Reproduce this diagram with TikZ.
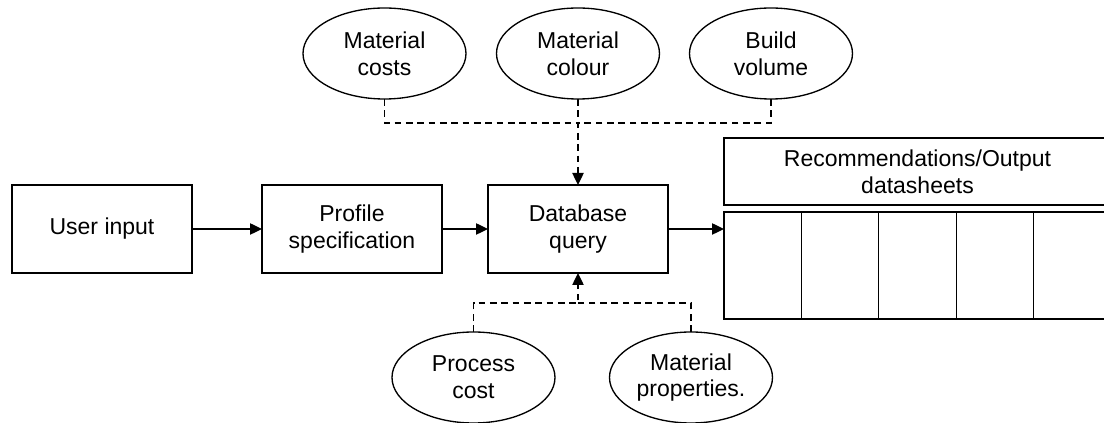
\documentclass[tikz,border=0pt]{standalone}
\usepackage{fontspec}
\setmainfont{Liberation Sans}
\usetikzlibrary{arrows.meta,shapes.geometric}

\tikzset{
  base/.style={draw=black, line width=1pt, inner sep=0pt, outer sep=0pt,
    align=center, font=\fontsize{17.25}{20}\selectfont},
  block/.style={base, rectangle, minimum width=135pt, minimum height=66pt},
  oval/.style={base, ellipse, minimum width=122.25pt, minimum height=68.25pt},
  cell/.style={base, rectangle, minimum width=58.05pt, minimum height=80.25pt},
  link/.style={line width=1pt, -{Triangle[length=9pt,width=8.5pt]}},
  feed/.style={line width=1pt, dash pattern=on 5pt off 3.5pt},
}

\begin{document}
\begin{tikzpicture}[x=0.75pt, y=-0.75pt]
  \useasboundingbox (0,0) rectangle (1104,423);
  \clip (0,0) rectangle (1104,423);

  % main chain
  \node[block] (user) at (102,229) {User input};
  \node[block] (prof) at (352,229) {Profile\\specification};
  \node[block] (db)   at (578,229) {Database\\query};

  % output panel
  \node[base, rectangle, minimum width=290.25pt, minimum height=50.25pt]
    (rec) at (917.5,171.5) {Recommendations/Output\\datasheets};
  \node[cell] (c1) at (762.7,265.5) {};
  \node[cell] (c2) at (840.1,265.5) {};
  \node[cell] (c3) at (917.5,265.5) {};
  \node[cell] (c4) at (994.9,265.5) {};
  \node[cell] (c5) at (1072.3,265.5) {};

  % data sources above the query
  \node[oval] (mcost) at (384.5,53.5) {Material\\costs};
  \node[oval] (mcol)  at (578,53.5)   {Material\\colour};
  \node[oval] (bvol)  at (771,53.5)   {Build\\volume};

  % data sources below the query
  \node[oval] (pcost) at (473.5,377.5) {Process\\cost};
  \node[oval] (mprop) at (691,377.5)   {Material\\properties.};

  % solid flow
  \draw[link] (user.east) -- (prof.west);
  \draw[link] (prof.east) -- (db.west);
  \draw[link] (db.east) -- (db.east -| c1.west);

  % dashed feeds into the query
  \coordinate (topbus) at (578,123);
  \coordinate (botbus) at (578,303);
  \draw[feed] (mcost.south) |- (topbus);
  \draw[feed] (bvol.south) |- (topbus);
  \draw[feed, link] (mcol.south) -- (db.north);
  \draw[feed] (mprop.north) |- (botbus);
  \draw[feed, link] (pcost.north) |- (botbus) -- (db.south);
\end{tikzpicture}
\end{document}
